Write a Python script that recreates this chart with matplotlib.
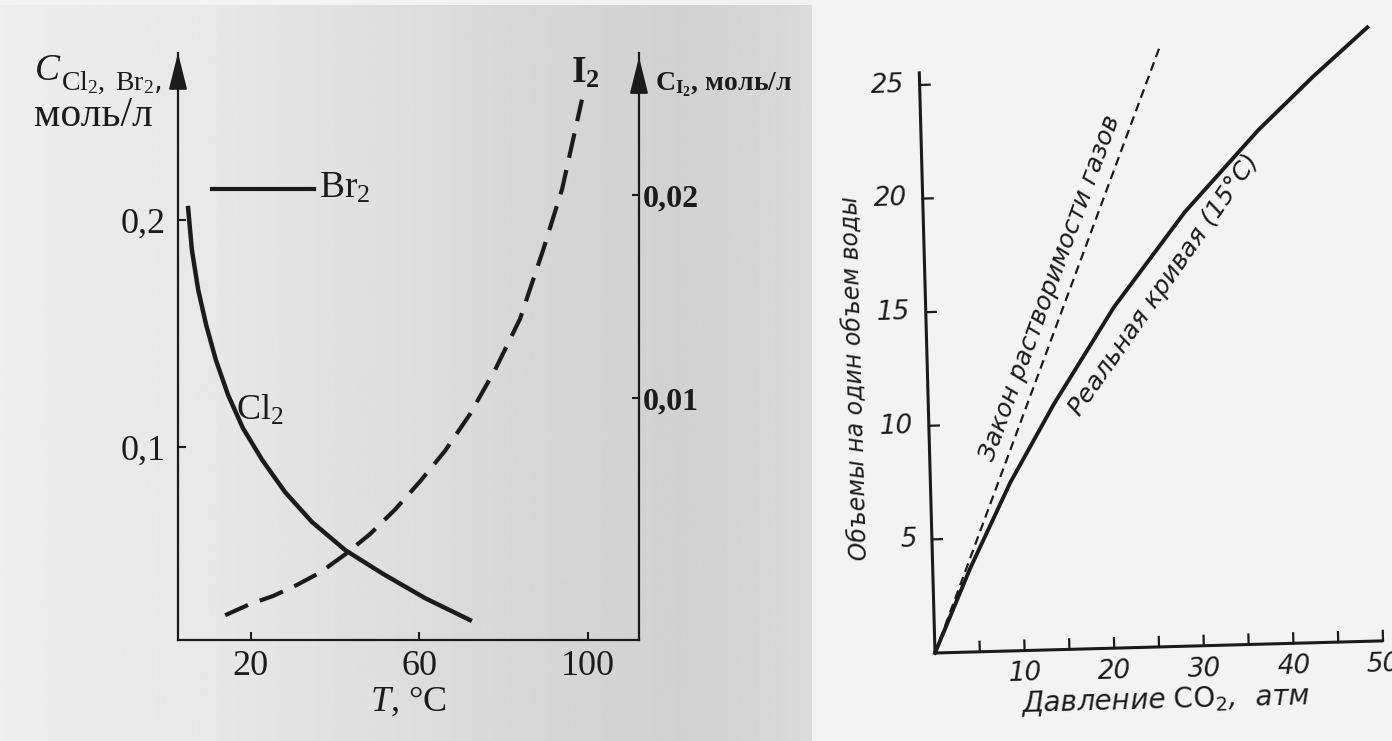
import numpy as np
import matplotlib
matplotlib.use('Agg')
import matplotlib.pyplot as plt
from matplotlib.transforms import Affine2D

plt.rcParams['mathtext.fontset'] = 'custom'
plt.rcParams['mathtext.rm'] = 'Liberation Serif'
plt.rcParams['mathtext.it'] = 'Liberation Serif:italic'
plt.rcParams['mathtext.bf'] = 'Liberation Serif:bold'
plt.rcParams['mathtext.sf'] = 'DejaVu Sans'

# left chart: solubility vs temperature
cl2_t = [5.1, 6.0, 7.5, 9.4, 11.7, 14.6, 18.1, 22.7, 28.1, 34.5, 42.4, 51.4, 61.3, 72.0]
cl2_c = [0.2053, 0.1868, 0.1692, 0.1537, 0.1383, 0.1229, 0.1084, 0.0943, 0.0802,
         0.0670, 0.0546, 0.0441, 0.0335, 0.0238]
i2_t = [13.9, 19.8, 25.3, 31.0, 36.4, 42.4, 48.3, 54.2, 60.2, 66.1, 72.0, 78.0,
        83.9, 89.4, 93.9, 98.6]
i2_c = [-0.0007, -0.00015, 0.00025, 0.0008, 0.0014, 0.0023, 0.0033, 0.0045, 0.0059,
        0.0074, 0.0092, 0.0114, 0.0139, 0.0173, 0.0203, 0.0247]
br2_t = [10.8, 35.0]
br2_c = [0.2137, 0.2137]
t_ticks = [20, 60, 100]
c_ticks = [0.1, 0.2]
c_labels = ['0,1', '0,2']
ci_ticks = [0.01, 0.02]
ci_labels = ['0,01', '0,02']

# right chart: CO2 in water at 15 C
law_p = [0, 27.0]
law_v = [0, 26.5]
real_p = [0, 4.2, 8.9, 14.0, 21.0, 29.2, 37.6, 43.9, 50.1]
real_v = [0, 3.7, 7.4, 10.8, 15.0, 19.1, 22.6, 24.9, 27.0]
p_ticks = [5, 10, 15, 20, 25, 30, 35, 40, 45, 50]
p_labels = ['', '10', '', '20', '', '30', '', '40', '', '50']
v_ticks = [5, 10, 15, 20, 25]

W, H = 1392, 741
fig = plt.figure(figsize=(W / 100, H / 100), dpi=100, facecolor='#f3f3f3')


def frac(x0, y0, x1, y1):
    # pixel box (from top-left) -> figure fraction
    return [x0 / W, 1 - y1 / H, (x1 - x0) / W, (y1 - y0) / H]


# grey paper behind the left scan
bg = fig.add_axes(frac(0, 5, 812, 741), zorder=-10)
grad = np.interp(np.linspace(0, 812, 300), [0, 200, 400, 550, 680, 760, 812],
                 [0.93, 0.91, 0.87, 0.84, 0.82, 0.84, 0.86])
bg.imshow(grad[None, :], cmap='gray', vmin=0, vmax=1, aspect='auto')
bg.axis('off')

ink = '#1b1b1b'
serif = 'Liberation Serif'

ax = fig.add_axes(frac(178, 53, 639, 640))
ax.patch.set_alpha(0)
ax.set_xlim(2.7, 112.15)
ax.set_ylim(0.0150, 0.2736)
ax.plot(cl2_t, cl2_c, color=ink, lw=3.2)
ax.plot(br2_t, br2_c, color=ink, lw=3.0, clip_on=False)
ax.spines['top'].set_visible(False)
for s in ['left', 'right', 'bottom']:
    ax.spines[s].set_linewidth(1.6)
    ax.spines[s].set_color(ink)
ax.set_xticks(t_ticks)
ax.set_xticklabels([str(t) for t in t_ticks], family=serif, fontsize=26)
ax.set_yticks(c_ticks)
ax.set_yticklabels(c_labels, family=serif, fontsize=26)
ax.tick_params(direction='in', length=6, width=1.5, color=ink, labelcolor=ink)
ax.tick_params(axis='x', pad=7)
ax.tick_params(axis='y', pad=9)
arrow = dict(arrowstyle='-|>,head_length=1.4,head_width=0.35', mutation_scale=16,
             color=ink, lw=1.6, shrinkA=0, shrinkB=0)
ax.annotate('', xy=(0, 1), xytext=(0, 0.95), xycoords='axes fraction', arrowprops=arrow)
ax.annotate('', xy=(1, 0.993), xytext=(1, 0.94), xycoords='axes fraction', arrowprops=arrow)

axr = ax.twinx()
axr.set_ylim(-0.00192, 0.0270)
axr.plot(i2_t, i2_c, color=ink, lw=3.0, dashes=(6, 3))
for s in ['top', 'left', 'bottom', 'right']:
    axr.spines[s].set_visible(False)
axr.set_yticks(ci_ticks)
axr.set_yticklabels(ci_labels, family=serif, fontsize=23, fontweight='bold')
axr.tick_params(direction='in', length=5, width=1.5, color=ink, labelcolor=ink, pad=3)

fig.text(35 / W, 1 - 80 / H, 'C', family=serif, style='italic', fontsize=27, color=ink,
         va='baseline')
fig.text(61 / W, 1 - 90 / H, r'$\mathrm{Cl_2,\ Br_2}$,', fontsize=20, color=ink,
         va='baseline')
fig.text(34 / W, 1 - 126 / H, 'моль/л', family=serif, fontsize=30, color=ink,
         va='baseline')
fig.text(319 / W, 1 - 198 / H, r'$\mathrm{Br_2}$', fontsize=27, color=ink, va='baseline')
fig.text(236 / W, 1 - 420 / H, r'$\mathrm{Cl_2}$', fontsize=26, color=ink, va='baseline')
fig.text(571 / W, 1 - 83 / H, r'$\mathbf{I_2}$', fontsize=27, color=ink, va='baseline')
fig.text(655 / W, 1 - 90 / H, r'$\mathbf{C_{I_2}}$, моль/л', family=serif, fontsize=20,
         fontweight='bold', color=ink, va='baseline')
ax.set_xlabel(r'$\mathit{T}$, °C', family=serif, fontsize=26, color=ink, labelpad=2)

# right chart: the scan is tilted, so draw it in a slightly rotated frame
tilt = 1.55
ox, oy = 935, H - 653          # display position of the origin
sx, sy = 8.964, 22.73          # pixels per atm / per volume
p_max, v_max = 50, 25.6
gost = 'DejaVu Sans'
ax2 = fig.add_axes([ox / W, oy / H, p_max * sx / W, v_max * sy / H])
ax2.set_xlim(0, p_max)
ax2.set_ylim(0, v_max)
ax2.axis('off')
tr = ax2.transData + Affine2D().rotate_deg_around(ox, oy, tilt)
kw = dict(transform=tr, clip_on=False, color=ink)

ax2.plot([0, p_max], [0, 0], lw=2.2, solid_capstyle='butt', **kw)
ax2.plot([0, 0], [0, v_max], lw=2.2, solid_capstyle='butt', **kw)
for p in p_ticks:
    ax2.plot([p, p], [0, 10 / sy], lw=1.6, **kw)
for v in v_ticks:
    ax2.plot([0, 10 / sx], [v, v], lw=1.6, **kw)
for p, lab in zip(p_ticks, p_labels):
    ax2.text(p, -10 / sy, lab, family=gost, style='italic', fontsize=19, rotation=tilt,
             ha='center', va='top', transform=tr, color=ink)
for v in v_ticks:
    ax2.text(-15 / sx, v, str(v), family=gost, style='italic', fontsize=19, rotation=tilt,
             ha='right', va='center', transform=tr, color=ink)

ax2.plot(real_p, real_v, lw=2.8, solid_joinstyle='round', **kw)
ax2.plot(law_p, law_v, lw=1.6, dashes=(4, 2.5), **kw)

ax2.text(25.5, -2.34, r'Давление $\mathsf{CO_2}$,  атм', family=gost, style='italic',
         fontsize=20, rotation=tilt, ha='center', va='center', transform=tr, color=ink)
ax2.text(-8.1, 12.2, 'Объемы на один объем воды', family=gost, style='italic',
         fontsize=17, rotation=90 + tilt, ha='center', va='center', transform=tr, color=ink)
ax2.text(13.9, 15.9, 'Закон растворимости газов', family=gost, style='italic',
         fontsize=18, rotation=69.8, rotation_mode='anchor', ha='center', va='center',
         transform=tr, color=ink)
ax2.text(26.6, 15.9, 'Реальная кривая (15°С)', family=gost, style='italic',
         fontsize=18, rotation=55, rotation_mode='anchor', ha='center', va='center',
         transform=tr, color=ink)

fig.savefig('out.png', dpi=100, facecolor=fig.get_facecolor())
